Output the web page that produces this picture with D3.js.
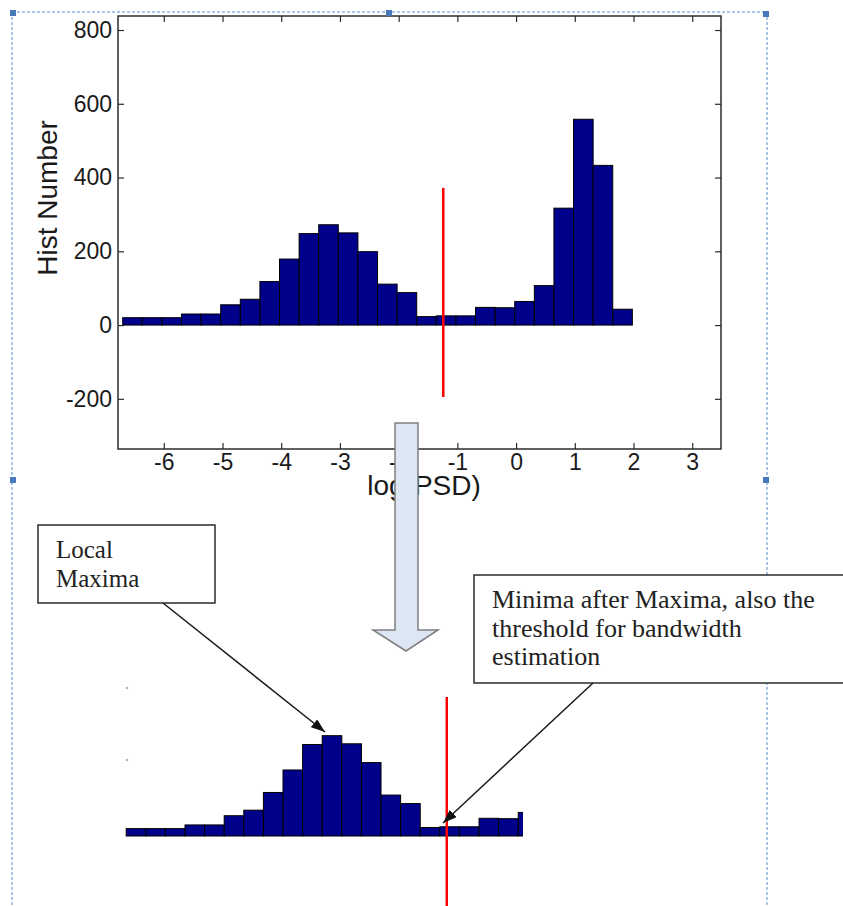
<!DOCTYPE html>
<html>
<head>
<meta charset="utf-8">
<script src="https://cdn.jsdelivr.net/npm/d3@7"></script>
<style>
  body { margin: 0; background: #fff; }
  svg text { font-family: "Liberation Sans", Arial, sans-serif; }
  .note text { font-family: "Liberation Serif", "Times New Roman", serif; fill: #222; }
</style>
</head>
<body>
<svg id="chart" width="843" height="906"></svg>
<script>
'use strict';

// histogram counts per bin of log(PSD)
const histCounts = [20, 20, 20, 30, 30, 55, 70, 118, 179, 248, 272, 250, 199,
                    111, 88, 23, 25, 25, 48, 47, 64, 107, 317, 558, 433, 43];
const binStart = -6.7;
const binEnd = 1.98;
const xTicks = [-6, -5, -4, -3, -2, -1, 0, 1, 2, 3];
const yTicks = [-200, 0, 200, 400, 600, 800];
const xDomain = [-6.78, 3.49];
const yDomain = [-336, 838];
const threshold = -1.24;           // red line position
const thresholdSpan = [-195, 372]; // red line extent in the top plot
const lowerBins = 21;              // bars repeated in the lower sketch
const xLabel = 'log(PSD)';
const yLabel = 'Hist Number';
const noteMax = ['Local', 'Maxima'];
const noteMin = ['Minima after Maxima, also the', 'threshold for bandwidth', 'estimation'];

const binWidth = (binEnd - binStart) / histCounts.length;
const bins = histCounts.map(function (c, i) {
  return { x0: binStart + i * binWidth, x1: binStart + (i + 1) * binWidth, count: c };
});

const svg = d3.select('#chart');
const barFill = '#00008b';
const frameColor = '#2b2b2b';
const plainNum = d => String(d);   // hyphen minus, like MATLAB

const plot = { left: 118, right: 721, top: 16, bottom: 449 };
const x = d3.scaleLinear().domain(xDomain).range([plot.left, plot.right]);
const y = d3.scaleLinear().domain(yDomain).range([plot.bottom, plot.top]);

// selection frame (dashed) behind everything
const sel = svg.append('g');
[[12, 12, 767, 12], [12, 12, 12, 906], [767, 12, 767, 906]].forEach(function (l) {
  sel.append('line')
    .attr('x1', l[0]).attr('y1', l[1]).attr('x2', l[2]).attr('y2', l[3])
    .attr('stroke', '#8db3e2').attr('stroke-width', 1.5)
    .attr('stroke-dasharray', '3,2');
});

// top histogram
svg.append('g').selectAll('rect')
  .data(bins)
  .enter().append('rect')
    .attr('x', d => x(d.x0))
    .attr('y', d => y(d.count))
    .attr('width', d => x(d.x1) - x(d.x0))
    .attr('height', d => y(0) - y(d.count))
    .attr('fill', barFill)
    .attr('stroke', '#000')
    .attr('stroke-width', 1);

svg.append('line')
  .attr('x1', x(threshold)).attr('x2', x(threshold))
  .attr('y1', y(thresholdSpan[0])).attr('y2', y(thresholdSpan[1]))
  .attr('stroke', '#ff0000').attr('stroke-width', 2.5);

// axes, ticks pointing inward
function styleAxis(g) {
  g.select('.domain').remove();
  g.selectAll('.tick line').attr('stroke', frameColor).attr('stroke-width', 1.2);
  g.selectAll('.tick text').attr('fill', '#1a1a1a').attr('font-size', 23);
}

svg.append('g')
  .attr('transform', `translate(0, ${plot.bottom})`)
  .call(d3.axisBottom(x).tickValues(xTicks).tickFormat(plainNum)
    .tickSizeInner(-6).tickSizeOuter(0).tickPadding(5))
  .call(styleAxis);

svg.append('g')
  .attr('transform', `translate(0, ${plot.top})`)
  .call(d3.axisTop(x).tickValues(xTicks).tickSizeInner(-6).tickSizeOuter(0).tickFormat(''))
  .call(styleAxis);

svg.append('g')
  .attr('transform', `translate(${plot.left}, 0)`)
  .call(d3.axisLeft(y).tickValues(yTicks).tickFormat(plainNum)
    .tickSizeInner(-6).tickSizeOuter(0).tickPadding(6))
  .call(styleAxis);

svg.append('g')
  .attr('transform', `translate(${plot.right}, 0)`)
  .call(d3.axisRight(y).tickValues(yTicks).tickSizeInner(-6).tickSizeOuter(0).tickFormat(''))
  .call(styleAxis);

svg.append('rect')
  .attr('x', plot.left).attr('y', plot.top)
  .attr('width', plot.right - plot.left).attr('height', plot.bottom - plot.top)
  .attr('fill', 'none').attr('stroke', frameColor).attr('stroke-width', 1.5);

svg.append('text')
  .attr('x', 424).attr('y', 495)
  .attr('text-anchor', 'middle')
  .attr('font-size', 28).attr('fill', '#1a1a1a')
  .text(xLabel);

svg.append('text')
  .attr('transform', 'translate(57, 198) rotate(-90)')
  .attr('text-anchor', 'middle')
  .attr('font-size', 28).attr('fill', '#1a1a1a')
  .text(yLabel);

// handles on the selection frame
[[13, 13], [389, 13], [766, 14], [13, 480], [766, 480]].forEach(function (p) {
  svg.append('rect')
    .attr('x', p[0] - 3).attr('y', p[1] - 3)
    .attr('width', 6).attr('height', 6)
    .attr('fill', '#4a78bd');
});

// big down arrow
svg.append('path')
  .attr('d', 'M395,423 L418,423 L418,630 L438,630 L406,651 L373,630 L395,630 Z')
  .attr('fill', '#dde7f4')
  .attr('stroke', '#7f7f7f')
  .attr('stroke-width', 1.5);

// lower sketch: same bins, cropped after the threshold
const k = (plot.bottom - plot.top) / (yDomain[1] - yDomain[0]);
const xb = d3.scaleLinear().domain(xDomain).range([plot.left + 3.5, plot.right + 3.5]);
const yb = d3.scaleLinear().domain([0, 800]).range([836, 836 - 800 * k]);

svg.append('clipPath').attr('id', 'lowclip')
  .append('rect').attr('x', 0).attr('y', 600).attr('width', 523).attr('height', 300);

svg.append('g')
  .attr('clip-path', 'url(#lowclip)')
  .selectAll('rect')
  .data(bins.slice(0, lowerBins))
  .enter().append('rect')
    .attr('x', d => xb(d.x0))
    .attr('y', d => yb(d.count))
    .attr('width', d => xb(d.x1) - xb(d.x0))
    .attr('height', d => yb(0) - yb(d.count))
    .attr('fill', barFill)
    .attr('stroke', '#000')
    .attr('stroke-width', 1);

svg.append('line')
  .attr('x1', xb(threshold)).attr('x2', xb(threshold))
  .attr('y1', 697).attr('y2', 906)
  .attr('stroke', '#ff0000').attr('stroke-width', 2.5);

[[127, 688], [127, 760]].forEach(function (p) {
  svg.append('circle').attr('cx', p[0]).attr('cy', p[1]).attr('r', 1.2).attr('fill', '#b5b5b5');
});

// callouts
svg.append('defs').append('marker')
  .attr('id', 'head')
  .attr('markerUnits', 'userSpaceOnUse')
  .attr('markerWidth', 14).attr('markerHeight', 10)
  .attr('refX', 14).attr('refY', 5)
  .attr('orient', 'auto')
  .append('path').attr('d', 'M0,0 L14,5 L0,10 Z').attr('fill', '#111');

function callout(box, lines, size, lineGap, from, to) {
  const g = svg.append('g').attr('class', 'note');
  g.append('rect')
    .attr('x', box[0]).attr('y', box[1]).attr('width', box[2]).attr('height', box[3])
    .attr('fill', '#fff').attr('stroke', '#2b2b2b').attr('stroke-width', 1.5);
  lines.forEach(function (t, i) {
    g.append('text')
      .attr('x', box[0] + 18).attr('y', box[1] + 33 + i * lineGap)
      .attr('font-size', size)
      .text(t);
  });
  svg.append('line')
    .attr('x1', from[0]).attr('y1', from[1]).attr('x2', to[0]).attr('y2', to[1])
    .attr('stroke', '#1a1a1a').attr('stroke-width', 1.5)
    .attr('marker-end', 'url(#head)');
}

callout([38, 525, 177, 78], noteMax, 25, 29, [163, 603], [325, 732]);
callout([474, 575, 372, 108], noteMin, 26, 28.5, [593, 683], [443, 823]);
</script>
</body>
</html>
